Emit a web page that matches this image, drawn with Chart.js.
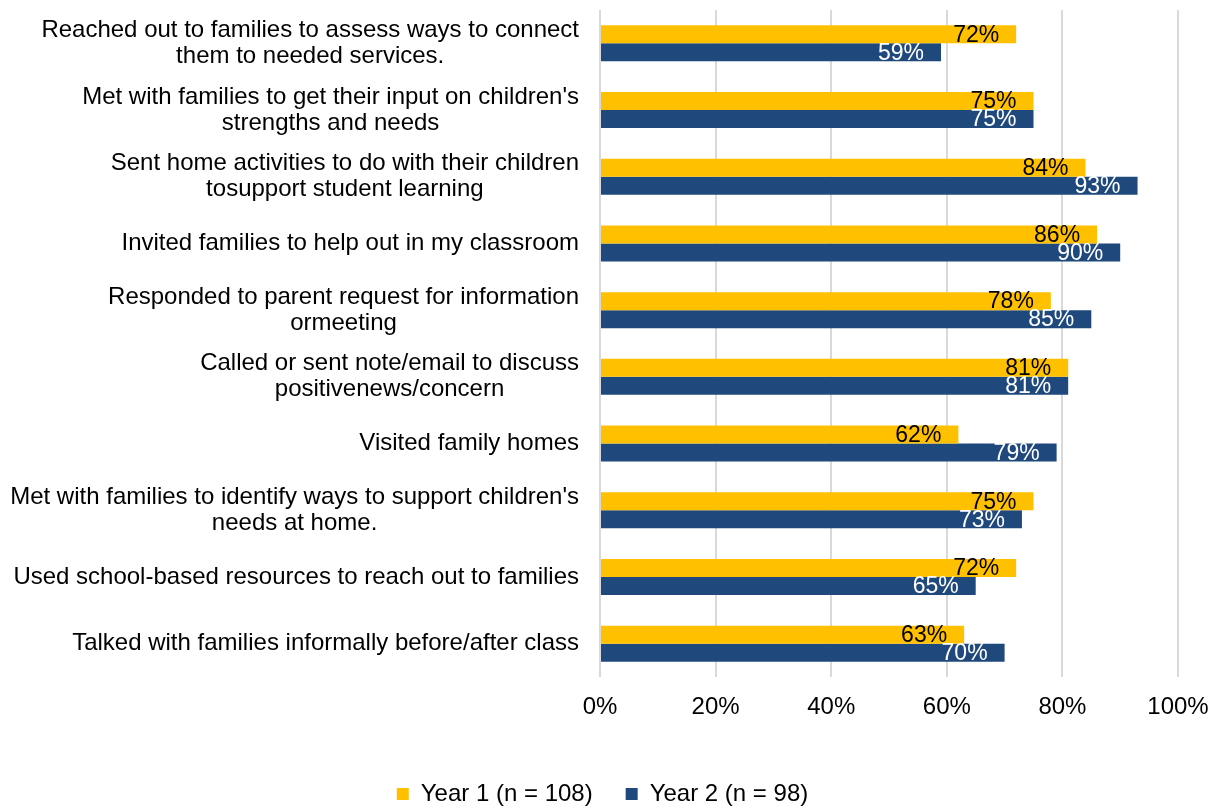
<!DOCTYPE html>
<html>
<head>
<meta charset="utf-8">
<script src="https://cdn.jsdelivr.net/npm/chart.js@4/dist/chart.umd.min.js"></script>
<style>
  html, body { margin: 0; padding: 0; background: #fff; }
  #wrap { width: 1217px; height: 808px; }
</style>
</head>
<body>
<div id="wrap"><canvas id="familyChart"></canvas></div>
<script>
// Family engagement activities, share of teachers by year
var categories = [
    ['Reached out to families to assess ways to connect', 'them to needed services.'],
    ['Met with families to get their input on children\'s', 'strengths and needs'],
    ['Sent home activities to do with their children', 'tosupport student learning'],
    ['Invited families to help out in my classroom'],
    ['Responded to parent request for information', 'ormeeting'],
    ['Called or sent note/email to discuss', 'positivenews/concern'],
    ['Visited family homes'],
    ['Met with families to identify ways to support children\'s', 'needs at home.'],
    ['Used school-based resources to reach out to families'],
    ['Talked with families informally before/after class']
];
var year1 = [72, 75, 84, 86, 78, 81, 62, 75, 72, 63];
var year2 = [59, 75, 93, 90, 85, 81, 79, 73, 65, 70];
var xTicks = [0, 20, 40, 60, 80, 100];

var FONT = '"Liberation Sans", Arial, sans-serif';

// category labels: block right-aligned to the axis, lines centred inside the block
var categoryLabels = {
    id: 'categoryLabels',
    afterDraw: function(chart) {
        var ctx = chart.ctx;
        var yScale = chart.scales.y;
        var right = yScale.right - 21;
        ctx.save();
        ctx.font = '24px ' + FONT;
        ctx.fillStyle = '#000';
        ctx.textAlign = 'center';
        ctx.textBaseline = 'middle';
        categories.forEach(function(lines, i) {
            var cy = yScale.getPixelForValue(i);
            var blockW = 0;
            lines.forEach(function(l) {
                blockW = Math.max(blockW, ctx.measureText(l).width);
            });
            var cx = right - blockW / 2;
            var lh = 26;
            var startY = cy - (lines.length - 1) * lh / 2;
            lines.forEach(function(l, k) {
                ctx.fillText(l, cx, startY + k * lh);
            });
        });
        ctx.restore();
    }
};

// percentage labels just inside the end of each bar
var barValueLabels = {
    id: 'barValueLabels',
    afterDatasetsDraw: function(chart) {
        var ctx = chart.ctx;
        ctx.save();
        ctx.font = '23px ' + FONT;
        ctx.textAlign = 'right';
        ctx.textBaseline = 'middle';
        chart.data.datasets.forEach(function(ds, di) {
            var meta = chart.getDatasetMeta(di);
            ctx.fillStyle = di === 0 ? '#000' : '#fff';
            meta.data.forEach(function(bar, i) {
                ctx.fillText(ds.data[i] + '%', bar.x - 17, bar.y + 1);
            });
        });
        ctx.restore();
    }
};

new Chart(document.getElementById('familyChart'), {
    type: 'bar',
    data: {
        labels: categories,
        datasets: [{
            label: 'Year 1 (n = 108)',
            data: year1,
            backgroundColor: '#FFC000',
            categoryPercentage: 0.54,
            barPercentage: 1.0
        }, {
            label: 'Year 2 (n = 98)',
            data: year2,
            backgroundColor: '#1F497D',
            categoryPercentage: 0.54,
            barPercentage: 1.0
        }]
    },
    options: {
        indexAxis: 'y',
        responsive: true,
        maintainAspectRatio: false,
        animation: false,
        layout: {
            padding: { top: 10, right: 39, bottom: -8, left: 27 }
        },
        plugins: {
            legend: {
                position: 'bottom',
                labels: {
                    boxWidth: 12,
                    boxHeight: 12,
                    padding: 33,
                    color: '#000',
                    font: { family: FONT, size: 24 }
                }
            },
            tooltip: { enabled: false }
        },
        scales: {
            x: {
                min: 0,
                max: 100,
                afterBuildTicks: function(scale) {
                    scale.ticks = xTicks.map(function(v) { return { value: v }; });
                },
                afterFit: function(scale) {
                    scale.height = 72;
                    scale.paddingLeft = 0;
                    scale.paddingRight = 0;
                },
                grid: {
                    color: '#D9D9D9',
                    lineWidth: 2,
                    drawTicks: false
                },
                border: { display: false },
                ticks: {
                    padding: 16,
                    color: '#000',
                    font: { family: FONT, size: 24 },
                    callback: function(v) { return v + '%'; }
                }
            },
            y: {
                afterFit: function(scale) {
                    scale.width = 573;
                },
                grid: { display: false },
                border: { display: false },
                ticks: { display: false }
            }
        }
    },
    plugins: [categoryLabels, barValueLabels]
});
</script>
</body>
</html>
